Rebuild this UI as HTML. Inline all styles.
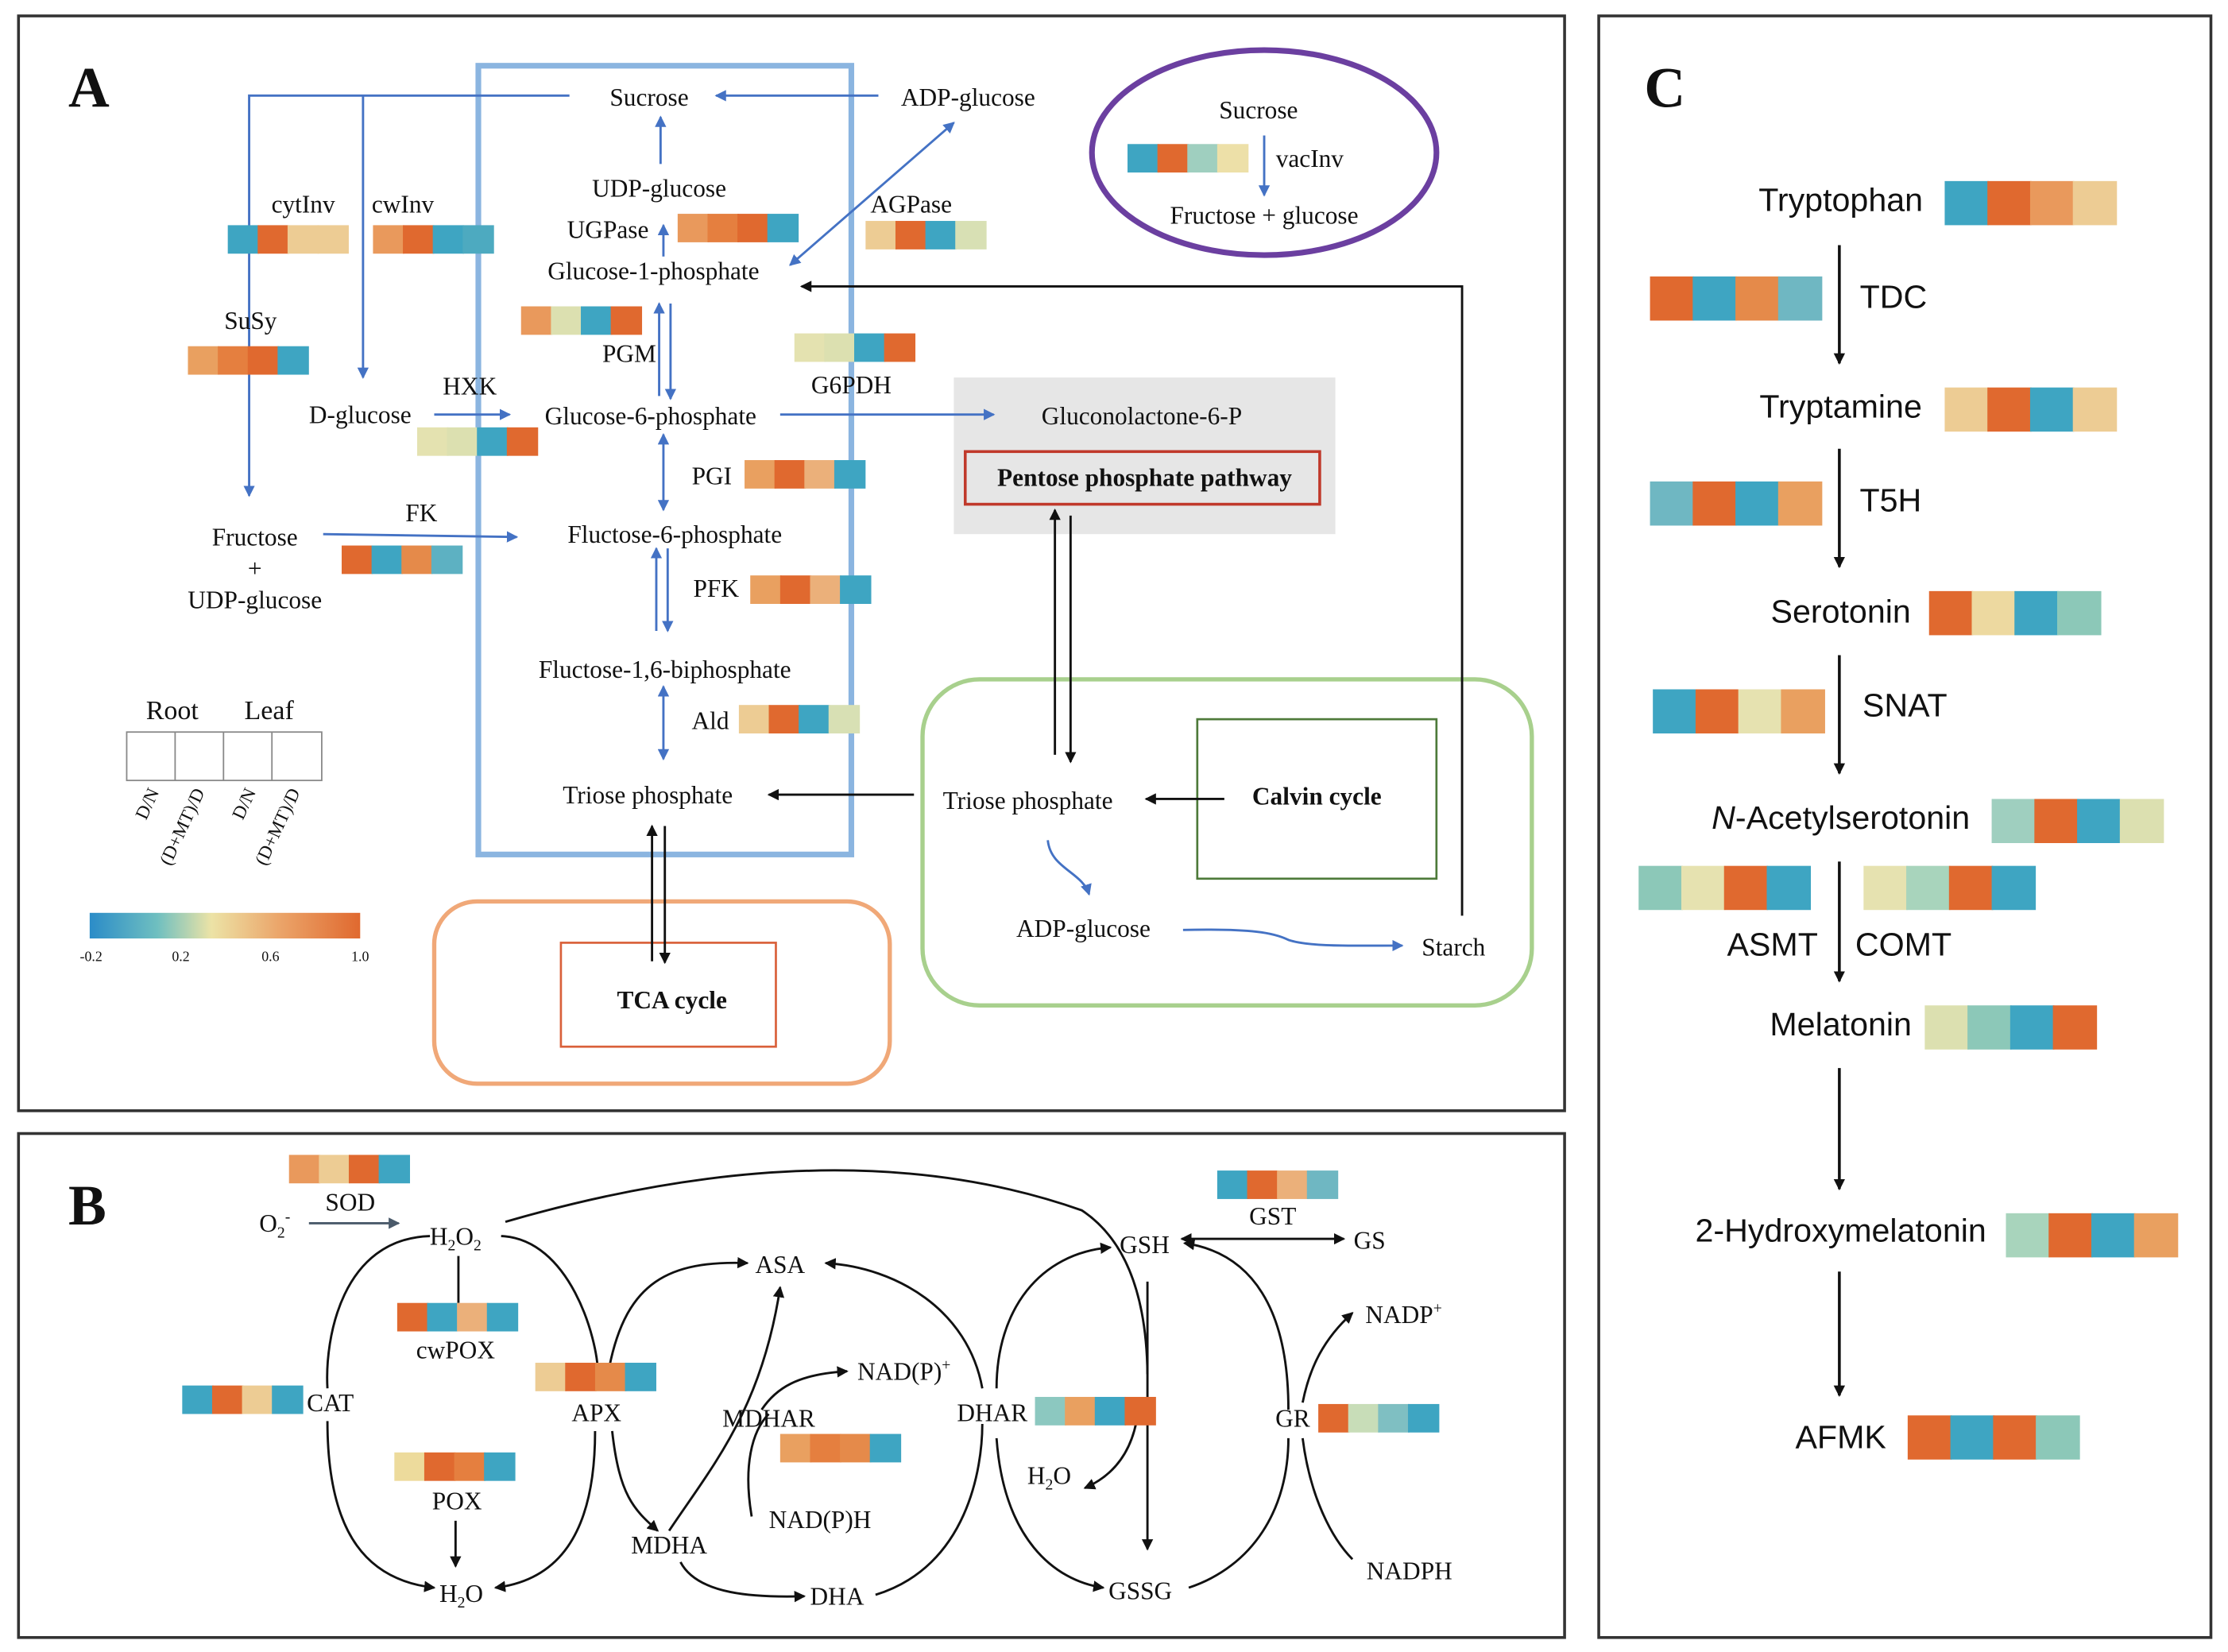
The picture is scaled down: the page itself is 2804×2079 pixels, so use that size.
<!DOCTYPE html>
<html><head><meta charset="utf-8"><style>
html,body{margin:0;padding:0;background:#fff}
svg{display:block}
text{font-family:"Liberation Serif",serif;fill:#111}
.c text{font-family:"Liberation Sans",sans-serif}
</style></head><body>
<svg width="2804" height="2079" viewBox="0 0 1565 1160" xmlns="http://www.w3.org/2000/svg">
<defs>
<marker id="ab" markerWidth="8" markerHeight="8" refX="7" refY="4" orient="auto" markerUnits="userSpaceOnUse"><path d="M0,0 L8,4 L0,8 z" fill="#111"/></marker>
<marker id="abs" markerWidth="8" markerHeight="8" refX="1" refY="4" orient="auto" markerUnits="userSpaceOnUse"><path d="M8,0 L0,4 L8,8 z" fill="#111"/></marker>
<marker id="au" markerWidth="8" markerHeight="8" refX="7" refY="4" orient="auto" markerUnits="userSpaceOnUse"><path d="M0,0 L8,4 L0,8 z" fill="#4472C4"/></marker>
<marker id="aus" markerWidth="8" markerHeight="8" refX="1" refY="4" orient="auto" markerUnits="userSpaceOnUse"><path d="M8,0 L0,4 L8,8 z" fill="#4472C4"/></marker>
<marker id="ag" markerWidth="8" markerHeight="8" refX="7" refY="4" orient="auto" markerUnits="userSpaceOnUse"><path d="M0,0 L8,4 L0,8 z" fill="#4a5a6a"/></marker>
<linearGradient id="gr" x1="0" x2="1" y1="0" y2="0">
<stop offset="0" stop-color="#2B8CC8"/><stop offset="0.25" stop-color="#6FBFC0"/><stop offset="0.45" stop-color="#ECE3A6"/><stop offset="0.7" stop-color="#EBA56A"/><stop offset="1" stop-color="#E0692F"/></linearGradient>
</defs>
<rect width="1565" height="1160" fill="#fff"/>
<rect x="13" y="11" width="1086" height="769" fill="none" stroke="#333" stroke-width="2"/>
<rect x="13" y="796" width="1086" height="354" fill="none" stroke="#333" stroke-width="2"/>
<rect x="1123" y="11" width="430" height="1139" fill="none" stroke="#333" stroke-width="2"/>

<!-- PANEL A -->
<text x="48" y="75" font-size="40" font-weight="bold">A</text>
<rect x="336" y="46" width="262" height="554" fill="none" stroke="#8BB5E0" stroke-width="4"/>
<rect x="670" y="265" width="268" height="110" fill="#E6E6E6"/>
<rect x="678" y="317" width="249" height="37" fill="none" stroke="#C0392B" stroke-width="2"/>
<rect x="305" y="633" width="320" height="128" rx="30" fill="none" stroke="#F0A878" stroke-width="3"/>
<rect x="394" y="662" width="151" height="73" fill="none" stroke="#D9603A" stroke-width="1.5"/>
<rect x="648" y="477" width="428" height="229" rx="40" fill="none" stroke="#A8D08D" stroke-width="3"/>
<rect x="841" y="505" width="168" height="112" fill="none" stroke="#4E7A3A" stroke-width="1.5"/>
<ellipse cx="888" cy="107" rx="121" ry="72" fill="none" stroke="#6B3FA0" stroke-width="4"/>

<g stroke="#4472C4" stroke-width="1.6" fill="none">
<path d="M400,67 H175 V348" marker-end="url(#au)"/>
<path d="M255,67 V265" marker-end="url(#au)"/>
<path d="M617,67 H503" marker-end="url(#au)"/>
<path d="M464,115 V82" marker-end="url(#au)"/>
<path d="M466,180 V158" marker-end="url(#au)"/>
<path d="M555,186 L670,86" marker-start="url(#aus)" marker-end="url(#au)"/>
<path d="M463,278 V213" marker-end="url(#au)"/>
<path d="M471,213 V280" marker-end="url(#au)"/>
<path d="M305,291 H358" marker-end="url(#au)"/>
<path d="M548,291 H698" marker-end="url(#au)"/>
<path d="M466,305 V358" marker-start="url(#aus)" marker-end="url(#au)"/>
<path d="M227,375 L363,377" marker-end="url(#au)"/>
<path d="M461,443 V385" marker-end="url(#au)"/>
<path d="M469,385 V443" marker-end="url(#au)"/>
<path d="M466,482 V533" marker-start="url(#aus)" marker-end="url(#au)"/>
<path d="M888,95 V137" marker-end="url(#au)"/>
<path d="M736,590 C738,610 760,612 765,628" marker-end="url(#au)"/>
<path d="M831,653 C880,652 895,655 905,660 C920,665 950,664 985,664" marker-end="url(#au)"/>
</g>
<g stroke="#111" stroke-width="1.6" fill="none">
<path d="M1027,643 V201 H563" marker-end="url(#ab)"/>
<path d="M642,558 H540" marker-end="url(#ab)"/>
<path d="M458,675 V580" marker-end="url(#ab)"/>
<path d="M467,580 V676" marker-end="url(#ab)"/>
<path d="M741,530 V358" marker-end="url(#ab)"/>
<path d="M752,362 V535" marker-end="url(#ab)"/>
<path d="M860,561 H805" marker-end="url(#ab)"/>
</g>

<g font-size="17.5" text-anchor="middle">
<text x="456" y="74">Sucrose</text>
<text x="680" y="74">ADP-glucose</text>
<text x="463" y="138">UDP-glucose</text>
<text x="427" y="167">UGPase</text>
<text x="459" y="196">Glucose-1-phosphate</text>
<text x="640" y="149">AGPase</text>
<text x="213" y="149">cytInv</text>
<text x="283" y="149">cwInv</text>
<text x="176" y="231">SuSy</text>
<text x="442" y="254">PGM</text>
<text x="598" y="276">G6PDH</text>
<text x="330" y="277">HXK</text>
<text x="253" y="297">D-glucose</text>
<text x="457" y="298">Glucose-6-phosphate</text>
<text x="802" y="298">Gluconolactone-6-P</text>
<text x="804" y="341" font-weight="bold">Pentose phosphate pathway</text>
<text x="500" y="340">PGI</text>
<text x="474" y="381">Fluctose-6-phosphate</text>
<text x="296" y="366">FK</text>
<text x="179" y="383">Fructose</text>
<text x="179" y="405">+</text>
<text x="179" y="427">UDP-glucose</text>
<text x="503" y="419">PFK</text>
<text x="467" y="476">Fluctose-1,6-biphosphate</text>
<text x="499" y="512">Ald</text>
<text x="455" y="564">Triose phosphate</text>
<text x="472" y="708" font-weight="bold">TCA cycle</text>
<text x="925" y="565" font-weight="bold">Calvin cycle</text>
<text x="722" y="568">Triose phosphate</text>
<text x="761" y="658">ADP-glucose</text>
<text x="1021" y="671">Starch</text>
<text x="884" y="83">Sucrose</text>
<text x="920" y="117">vacInv</text>
<text x="888" y="157">Fructose + glucose</text>
<text x="121" y="505" font-size="19">Root</text>
<text x="189" y="505" font-size="19">Leaf</text>
</g>

<g>
<rect x="476" y="150" width="22" height="20" fill="#E9995C"/><rect x="497" y="150" width="22" height="20" fill="#E57F3F"/><rect x="518" y="150" width="22" height="20" fill="#E0692F"/><rect x="539" y="150" width="22" height="20" fill="#3EA5C2"/>
<rect x="608" y="155" width="22" height="20" fill="#EDCC94"/><rect x="629" y="155" width="22" height="20" fill="#E0692F"/><rect x="650" y="155" width="22" height="20" fill="#3EA5C2"/><rect x="671" y="155" width="22" height="20" fill="#D8E0B4"/>
<rect x="160" y="158" width="22" height="20" fill="#3EA5C2"/><rect x="181" y="158" width="22" height="20" fill="#E0692F"/><rect x="202" y="158" width="22" height="20" fill="#EDCC94"/><rect x="223" y="158" width="22" height="20" fill="#EDCC94"/>
<rect x="262" y="158" width="22" height="20" fill="#E9995C"/><rect x="283" y="158" width="22" height="20" fill="#E0692F"/><rect x="304" y="158" width="22" height="20" fill="#3EA5C2"/><rect x="325" y="158" width="22" height="20" fill="#4DAAC0"/>
<rect x="132" y="243" width="22" height="20" fill="#E9A060"/><rect x="153" y="243" width="22" height="20" fill="#E57F3F"/><rect x="174" y="243" width="22" height="20" fill="#E0692F"/><rect x="195" y="243" width="22" height="20" fill="#3EA5C2"/>
<rect x="366" y="215" width="22" height="20" fill="#E9995C"/><rect x="387" y="215" width="22" height="20" fill="#DCE0B0"/><rect x="408" y="215" width="22" height="20" fill="#3EA5C2"/><rect x="429" y="215" width="22" height="20" fill="#E0692F"/>
<rect x="558" y="234" width="22" height="20" fill="#E4E2B0"/><rect x="579" y="234" width="22" height="20" fill="#DCE0B0"/><rect x="600" y="234" width="22" height="20" fill="#3EA5C2"/><rect x="621" y="234" width="22" height="20" fill="#E0692F"/>
<rect x="293" y="300" width="22" height="20" fill="#E4E2B0"/><rect x="314" y="300" width="22" height="20" fill="#DCE0B0"/><rect x="335" y="300" width="22" height="20" fill="#3EA5C2"/><rect x="356" y="300" width="22" height="20" fill="#E0692F"/>
<rect x="523" y="323" width="22" height="20" fill="#E9A060"/><rect x="544" y="323" width="22" height="20" fill="#E0692F"/><rect x="565" y="323" width="22" height="20" fill="#EBB07A"/><rect x="586" y="323" width="22" height="20" fill="#3EA5C2"/>
<rect x="240" y="383" width="22" height="20" fill="#E0692F"/><rect x="261" y="383" width="22" height="20" fill="#3EA5C2"/><rect x="282" y="383" width="22" height="20" fill="#E58A4A"/><rect x="303" y="383" width="22" height="20" fill="#5DB1C2"/>
<rect x="527" y="404" width="22" height="20" fill="#E9A060"/><rect x="548" y="404" width="22" height="20" fill="#E0692F"/><rect x="569" y="404" width="22" height="20" fill="#EBB07A"/><rect x="590" y="404" width="22" height="20" fill="#3EA5C2"/>
<rect x="519" y="495" width="22" height="20" fill="#EDCC94"/><rect x="540" y="495" width="22" height="20" fill="#E0692F"/><rect x="561" y="495" width="22" height="20" fill="#3EA5C2"/><rect x="582" y="495" width="22" height="20" fill="#D8E0B4"/>
<rect x="792" y="101" width="22" height="20" fill="#3EA5C2"/><rect x="813" y="101" width="22" height="20" fill="#E0692F"/><rect x="834" y="101" width="22" height="20" fill="#9FCFBF"/><rect x="855" y="101" width="22" height="20" fill="#EDE0A8"/>
</g>

<g fill="none" stroke="#888" stroke-width="1">
<rect x="89" y="514" width="137" height="34"/>
<line x1="123" y1="514" x2="123" y2="548"/><line x1="157" y1="514" x2="157" y2="548"/><line x1="191" y1="514" x2="191" y2="548"/>
</g>
<g font-size="13">
<text transform="translate(112,556) rotate(-65)" text-anchor="end">D/N</text>
<text transform="translate(144,556) rotate(-65)" text-anchor="end">(D+MT)/D</text>
<text transform="translate(180,556) rotate(-65)" text-anchor="end">D/N</text>
<text transform="translate(211,556) rotate(-65)" text-anchor="end">(D+MT)/D</text>
</g>
<rect x="63" y="641" width="190" height="18" fill="url(#gr)"/>
<g font-size="10" text-anchor="middle">
<text x="64" y="675">-0.2</text><text x="127" y="675">0.2</text><text x="190" y="675">0.6</text><text x="253" y="675">1.0</text>
</g>

<!-- PANEL B -->
<text x="48" y="860" font-size="40" font-weight="bold">B</text>
<g stroke="#111" stroke-width="1.6" fill="none">
<path d="M217,859 H280" stroke="#4a5a6a" marker-end="url(#ag)"/>
<path d="M355,858 Q590,790 760,850 Q805,880 806,965"/>
<path d="M322,882 V915"/>
<path d="M302,868 C240,870 228,940 230,975"/>
<path d="M230,998 C230,1080 260,1110 305,1115" marker-end="url(#ab)"/>
<path d="M352,868 C400,870 420,940 420,965"/>
<path d="M418,1005 C418,1080 390,1110 348,1115" marker-end="url(#ab)"/>
<path d="M428,960 C440,900 470,885 525,887" marker-end="url(#ab)"/>
<path d="M430,1005 C435,1050 445,1060 462,1075" marker-end="url(#ab)"/>
<path d="M320,1068 V1100" marker-end="url(#ab)"/>
<path d="M470,1075 C500,1030 535,990 548,904" marker-end="url(#ab)"/>
<path d="M535,990 C545,975 560,965 595,963" marker-end="url(#ab)"/>
<path d="M528,1065 C522,1030 528,1005 540,993"/>
<path d="M478,1097 C490,1120 530,1122 565,1121" marker-end="url(#ab)"/>
<path d="M615,1120 C680,1100 690,1030 690,1000"/>
<path d="M690,975 C680,920 630,890 580,887" marker-end="url(#ab)"/>
<path d="M700,975 C700,920 730,880 780,876" marker-end="url(#ab)"/>
<path d="M700,1010 C705,1080 740,1110 775,1115" marker-end="url(#ab)"/>
<path d="M800,985 C798,1015 785,1035 762,1045" marker-end="url(#ab)"/>
<path d="M806,900 V1088" marker-end="url(#ab)"/>
<path d="M830,870 H944" marker-start="url(#abs)" marker-end="url(#ab)"/>
<path d="M835,1115 C880,1100 905,1060 905,1010"/>
<path d="M905,990 C905,920 880,880 832,873" marker-end="url(#ab)"/>
<path d="M915,985 C920,960 930,940 950,922" marker-end="url(#ab)"/>
<path d="M915,1010 C920,1050 935,1080 950,1095"/>
</g>
<g>
<rect x="203" y="811" width="22" height="20" fill="#E9995C"/><rect x="224" y="811" width="22" height="20" fill="#EDCC94"/><rect x="245" y="811" width="22" height="20" fill="#E0692F"/><rect x="266" y="811" width="22" height="20" fill="#3EA5C2"/>
<rect x="279" y="915" width="22" height="20" fill="#E0692F"/><rect x="300" y="915" width="22" height="20" fill="#3EA5C2"/><rect x="321" y="915" width="22" height="20" fill="#EBB07A"/><rect x="342" y="915" width="22" height="20" fill="#3EA5C2"/>
<rect x="128" y="973" width="22" height="20" fill="#3EA5C2"/><rect x="149" y="973" width="22" height="20" fill="#E0692F"/><rect x="170" y="973" width="22" height="20" fill="#EDCC94"/><rect x="191" y="973" width="22" height="20" fill="#3EA5C2"/>
<rect x="376" y="957" width="22" height="20" fill="#EDCC94"/><rect x="397" y="957" width="22" height="20" fill="#E0692F"/><rect x="418" y="957" width="22" height="20" fill="#E58A4A"/><rect x="439" y="957" width="22" height="20" fill="#3EA5C2"/>
<rect x="277" y="1020" width="22" height="20" fill="#EDDB9C"/><rect x="298" y="1020" width="22" height="20" fill="#E0692F"/><rect x="319" y="1020" width="22" height="20" fill="#E57F3F"/><rect x="340" y="1020" width="22" height="20" fill="#3EA5C2"/>
<rect x="548" y="1007" width="22" height="20" fill="#E9A060"/><rect x="569" y="1007" width="22" height="20" fill="#E57F3F"/><rect x="590" y="1007" width="22" height="20" fill="#E58A4A"/><rect x="611" y="1007" width="22" height="20" fill="#3EA5C2"/>
<rect x="727" y="981" width="22" height="20" fill="#8CC8C0"/><rect x="748" y="981" width="22" height="20" fill="#E9A060"/><rect x="769" y="981" width="22" height="20" fill="#3EA5C2"/><rect x="790" y="981" width="22" height="20" fill="#E0692F"/>
<rect x="855" y="822" width="22" height="20" fill="#3EA5C2"/><rect x="876" y="822" width="22" height="20" fill="#E0692F"/><rect x="897" y="822" width="22" height="20" fill="#EBB07A"/><rect x="918" y="822" width="22" height="20" fill="#6FB7C2"/>
<rect x="926" y="986" width="22" height="20" fill="#E0692F"/><rect x="947" y="986" width="22" height="20" fill="#C8DDB8"/><rect x="968" y="986" width="22" height="20" fill="#7FBFC2"/><rect x="989" y="986" width="22" height="20" fill="#3EA5C2"/>
</g>
<g font-size="17.5" text-anchor="middle">
<text x="246" y="850">SOD</text>
<text x="193" y="865">O<tspan font-size="11" dy="4">2</tspan><tspan font-size="11" dy="-11">-</tspan></text>
<text x="320" y="874">H<tspan font-size="11" dy="4">2</tspan><tspan dy="-4">O</tspan><tspan font-size="11" dy="4">2</tspan></text>
<text x="320" y="954">cwPOX</text>
<text x="232" y="991">CAT</text>
<text x="419" y="998">APX</text>
<text x="321" y="1060">POX</text>
<text x="324" y="1125">H<tspan font-size="11" dy="4">2</tspan><tspan dy="-4">O</tspan></text>
<text x="548" y="894">ASA</text>
<text x="540" y="1002">MDHAR</text>
<text x="635" y="969">NAD(P)<tspan font-size="11" dy="-7">+</tspan></text>
<text x="576" y="1073">NAD(P)H</text>
<text x="470" y="1091">MDHA</text>
<text x="588" y="1127">DHA</text>
<text x="697" y="998">DHAR</text>
<text x="737" y="1042">H<tspan font-size="11" dy="4">2</tspan><tspan dy="-4">O</tspan></text>
<text x="804" y="880">GSH</text>
<text x="801" y="1123">GSSG</text>
<text x="894" y="860">GST</text>
<text x="962" y="877">GS</text>
<text x="908" y="1002">GR</text>
<text x="986" y="929">NADP<tspan font-size="11" dy="-7">+</tspan></text>
<text x="990" y="1109">NADPH</text>
</g>

<!-- PANEL C -->
<text x="1155" y="75" font-size="40" font-weight="bold">C</text>
<g stroke="#111" stroke-width="2" fill="none">
<path d="M1292,172 V255" marker-end="url(#ab)"/>
<path d="M1292,315 V398" marker-end="url(#ab)"/>
<path d="M1292,460 V543" marker-end="url(#ab)"/>
<path d="M1292,605 V689" marker-end="url(#ab)"/>
<path d="M1292,750 V835" marker-end="url(#ab)"/>
<path d="M1292,893 V980" marker-end="url(#ab)"/>
</g>
<g class="c" font-size="23" text-anchor="middle">
<text x="1293" y="148">Tryptophan</text>
<text x="1330" y="216">TDC</text>
<text x="1293" y="293">Tryptamine</text>
<text x="1328" y="359">T5H</text>
<text x="1293" y="437">Serotonin</text>
<text x="1338" y="503">SNAT</text>
<text x="1293" y="582"><tspan font-style="italic">N</tspan>-Acetylserotonin</text>
<text x="1245" y="671">ASMT</text>
<text x="1337" y="671">COMT</text>
<text x="1293" y="727">Melatonin</text>
<text x="1293" y="872">2-Hydroxymelatonin</text>
<text x="1293" y="1017">AFMK</text>
</g>
<g>
<rect x="1366" y="127" width="31" height="31" fill="#3EA5C2"/><rect x="1396" y="127" width="31" height="31" fill="#E0692F"/><rect x="1426" y="127" width="31" height="31" fill="#E9995C"/><rect x="1456" y="127" width="31" height="31" fill="#EDCC94"/>
<rect x="1159" y="194" width="31" height="31" fill="#E0692F"/><rect x="1189" y="194" width="31" height="31" fill="#3EA5C2"/><rect x="1219" y="194" width="31" height="31" fill="#E58A4A"/><rect x="1249" y="194" width="31" height="31" fill="#6FB7C2"/>
<rect x="1366" y="272" width="31" height="31" fill="#EDCC94"/><rect x="1396" y="272" width="31" height="31" fill="#E0692F"/><rect x="1426" y="272" width="31" height="31" fill="#3EA5C2"/><rect x="1456" y="272" width="31" height="31" fill="#EDCC94"/>
<rect x="1159" y="338" width="31" height="31" fill="#6FB7C2"/><rect x="1189" y="338" width="31" height="31" fill="#E0692F"/><rect x="1219" y="338" width="31" height="31" fill="#3EA5C2"/><rect x="1249" y="338" width="31" height="31" fill="#E9A060"/>
<rect x="1355" y="415" width="31" height="31" fill="#E0692F"/><rect x="1385" y="415" width="31" height="31" fill="#EDD9A0"/><rect x="1415" y="415" width="31" height="31" fill="#3EA5C2"/><rect x="1445" y="415" width="31" height="31" fill="#8CC8B8"/>
<rect x="1161" y="484" width="31" height="31" fill="#3EA5C2"/><rect x="1191" y="484" width="31" height="31" fill="#E0692F"/><rect x="1221" y="484" width="31" height="31" fill="#E6E2B0"/><rect x="1251" y="484" width="31" height="31" fill="#E9A060"/>
<rect x="1399" y="561" width="31" height="31" fill="#9FCFBF"/><rect x="1429" y="561" width="31" height="31" fill="#E0692F"/><rect x="1459" y="561" width="31" height="31" fill="#3EA5C2"/><rect x="1489" y="561" width="31" height="31" fill="#DCE0B0"/>
<rect x="1151" y="608" width="31" height="31" fill="#8CC8B8"/><rect x="1181" y="608" width="31" height="31" fill="#E6E2B0"/><rect x="1211" y="608" width="31" height="31" fill="#E0692F"/><rect x="1241" y="608" width="31" height="31" fill="#3EA5C2"/>
<rect x="1309" y="608" width="31" height="31" fill="#E6E2B0"/><rect x="1339" y="608" width="31" height="31" fill="#A8D4BC"/><rect x="1369" y="608" width="31" height="31" fill="#E0692F"/><rect x="1399" y="608" width="31" height="31" fill="#3EA5C2"/>
<rect x="1352" y="706" width="31" height="31" fill="#DCE0B0"/><rect x="1382" y="706" width="31" height="31" fill="#8CC8B8"/><rect x="1412" y="706" width="31" height="31" fill="#3EA5C2"/><rect x="1442" y="706" width="31" height="31" fill="#E0692F"/>
<rect x="1409" y="852" width="31" height="31" fill="#A8D4BC"/><rect x="1439" y="852" width="31" height="31" fill="#E0692F"/><rect x="1469" y="852" width="31" height="31" fill="#3EA5C2"/><rect x="1499" y="852" width="31" height="31" fill="#E9A060"/>
<rect x="1340" y="994" width="31" height="31" fill="#E0692F"/><rect x="1370" y="994" width="31" height="31" fill="#3EA5C2"/><rect x="1400" y="994" width="31" height="31" fill="#E0692F"/><rect x="1430" y="994" width="31" height="31" fill="#8CC8B8"/>
</g>
</svg>
</body></html>
